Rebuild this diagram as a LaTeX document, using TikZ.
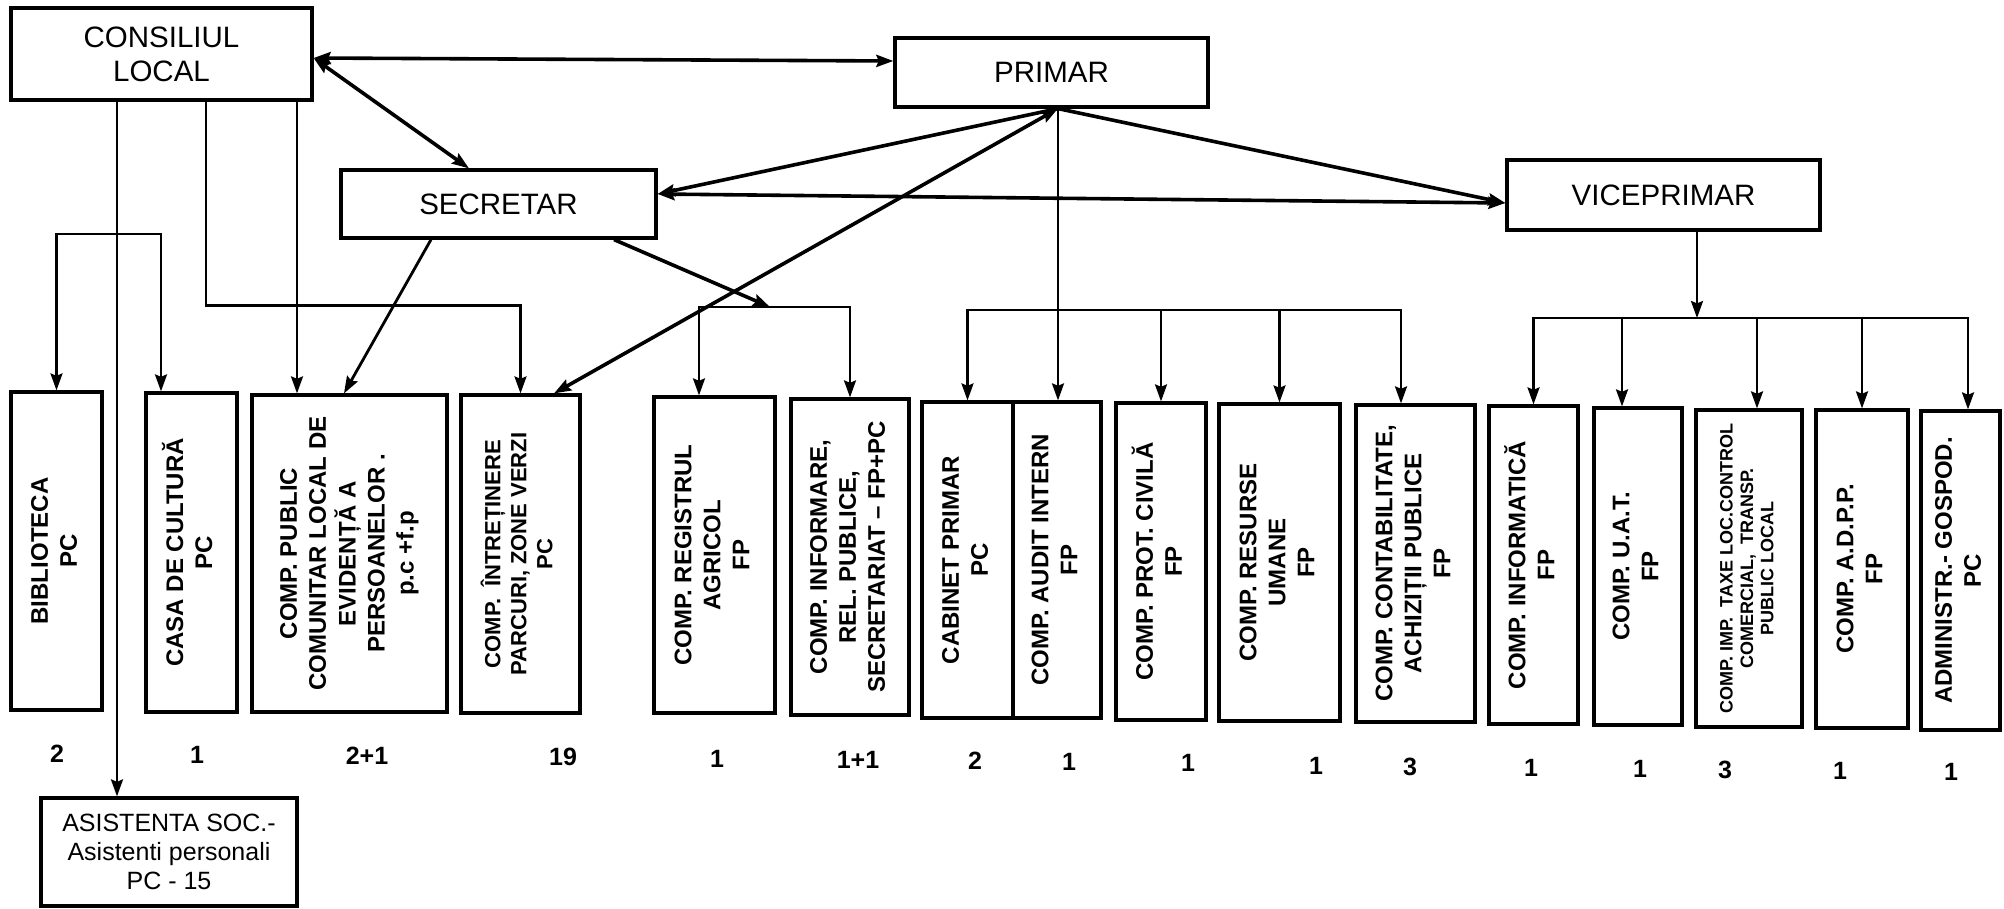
\documentclass[tikz,border=0pt]{standalone}
\usepackage{fontspec}
\setmainfont{Liberation Sans}
\usetikzlibrary{arrows.meta,calc}
\newcommand{\vbx}[7][\fontsize{12}{14.5}\selectfont]{%
  \node[vb, minimum width={(#5-#3)*0.5pt}, minimum height={(#6-#4)*0.5pt}] (#2) at ({(#3+#5)/2},{(#4+#6)/2})
  {\rotatebox{90}{#1\bfseries\begin{tabular}{@{}c@{}}#7\end{tabular}}};}
\newcommand{\tbx}[6]{%
  \node[tb, minimum width={(#5-#3)*0.5pt}, minimum height={(#6-#4)*0.5pt}] (#2) at ({(#3+#5)/2},{(#4+#6)/2}) {#1};}
\begin{document}
\begin{tikzpicture}[x=0.5pt,y=-0.5pt,
  tb/.style={draw, line width=1.6pt, inner sep=0pt, align=center, font=\fontsize{14.75}{17}\selectfont},
  vb/.style={draw, line width=1.6pt, inner sep=0pt},
  cthin/.style={line width=1.2pt},
  cmid/.style={line width=1.4pt},
  cthick/.style={line width=1.8pt},
  >={Stealth[length=8.5pt,width=6pt,inset=1.2pt]},
  num/.style={font=\bfseries\fontsize{12.5}{14}\selectfont, inner sep=0pt}
]
\fill[white] (0,0) rectangle (2004,909);
\useasboundingbox (0,0) rectangle (2004,909);

% top boxes
\tbx{CONSILIUL\\LOCAL}{CL}{11}{8}{312}{100}
\tbx{PRIMAR}{PR}{895}{38}{1208}{107}
\tbx{SECRETAR}{SEC}{341}{170}{656}{238}
\tbx{VICEPRIMAR}{VP}{1507}{160}{1820}{230}

% vertical boxes
\vbx{bib}{11}{392}{102}{710}{BIBLIOTECA\\PC}
\vbx{casa}{146}{393}{237}{712}{CASA DE CULTURĂ\\PC}
\vbx{cpub}{252}{395}{447}{712}{COMP. PUBLIC\\COMUNITAR LOCAL DE\\EVIDENȚĂ A\\PERSOANELOR .\\p.c +f.p}
\vbx[\fontsize{11}{13}\selectfont]{intr}{461}{395}{580}{713}{COMP. \ ÎNTREȚINERE\\PARCURI, ZONE VERZI\\PC}
\vbx{reg}{654}{397}{775}{713}{COMP. REGISTRUL\\AGRICOL\\FP}
\vbx{inf}{791}{399}{909}{715}{COMP. INFORMARE,\\REL. PUBLICE,\\SECRETARIAT – FP+PC}
\vbx{cab}{922}{402}{1013}{718}{CABINET PRIMAR\\PC}
\vbx{aud}{1013}{402}{1101}{718}{COMP. AUDIT INTERN\\FP}
\vbx{prot}{1116}{403}{1206}{720}{COMP. PROT. CIVILĂ\\FP}
\vbx{rum}{1219}{404}{1340}{721}{COMP. RESURSE\\UMANE\\FP}
\vbx{cont}{1356}{405}{1475}{722}{COMP. CONTABILITATE,\\ACHIZIȚII PUBLICE\\FP}
\vbx{info}{1489}{406}{1578}{724}{COMP. INFORMATICĂ\\FP}
\vbx{uat}{1594}{408}{1682}{725}{COMP. U.A.T.\\FP}
\vbx[\fontsize{9}{10.2}\selectfont]{taxe}{1696}{410}{1802}{727}{COMP. IMP. \ TAXE LOC.CONTROL\\COMERCIAL, \ TRANSP.\\PUBLIC LOCAL}
\vbx{adpp}{1816}{410}{1908}{728}{COMP. A.D.P.P.\\FP}
\vbx{adm}{1921}{411}{2000}{730}{ADMINISTR.- GOSPOD.\\PC}

% asistenta
\node[draw, line width=1.6pt, inner sep=0pt, align=center, font=\fontsize{12.5}{14.5}\selectfont,
  minimum width=128pt, minimum height=54pt] (asis) at (169,852)
  {ASISTENTA SOC.-\\Asistenti personali\\PC - 15};

% numbers
\node[num] (k1) at (57,754) {2};
\node[num] (k2) at (197,755) {1};
\node[num] (k3) at (367,756) {2+1};
\node[num] (k4) at (563,757) {19};
\node[num] (k5) at (717,759) {1};
\node[num] (k6) at (858,760) {1+1};
\node[num] (k7) at (975,761) {2};
\node[num] (k8) at (1069,762) {1};
\node[num] (k9) at (1188,763) {1};
\node[num] (k10) at (1316,766) {1};
\node[num] (k11) at (1410,767) {3};
\node[num] (k12) at (1531,768) {1};
\node[num] (k13) at (1640,769) {1};
\node[num] (k14) at (1725,770) {3};
\node[num] (k15) at (1840,771) {1};
\node[num] (k16) at (1951,772) {1};

% top connectors
\draw[cthick,<->] ([yshift=-2pt]CL.east) -- ([yshift=5.75pt]PR.west);
\draw[cthick,<->] ([yshift=-2pt]CL.east) -- ([xshift=-14.75pt]SEC.north);
\coordinate (pa) at ([xshift=3.25pt]PR.south);
\draw[cthick,->] (pa) -- ([yshift=5pt]SEC.east);
\draw[cthick,<->] ([yshift=5pt]SEC.east) -- ([yshift=-4pt]VP.west);
\draw[cthick,->] (pa) -- ([yshift=-4pt]VP.west);
\draw[cthick,<->] (pa) -- ([xshift=16.75pt]intr.north);
\draw[cthin,->] (pa) -- (pa |- aud.north);

% primar bracket
\coordinate (pb) at (1058,310);
\draw[cthin,->] (pb) -| (cab.north);
\draw[cthin,->] (pb) -| (prot.north);
\draw[cthin,->] (pb) -| (rum.north);
\draw[cthin,->] (pb) -| ([xshift=-7.25pt]cont.north);

% secretar
\coordinate (sb) at (770,307);
\draw[cthick,->] ([xshift=57.75pt]SEC.south) -- (sb);
\draw[cthin,->] (sb) -| ([xshift=-7.75pt]reg.north);
\draw[cthin,->] (sb) -| (inf.north);
\draw[cmid,->] ([xshift=-33.75pt]SEC.south) -- ([xshift=-2.75pt]cpub.north);

% consiliul local
\draw[cthin,->] ([xshift=-22.25pt]CL.south) -- ([xshift=-22.25pt]CL.south |- asis.north);
\coordinate (cb) at (117,234);
\draw[cthin,->] (cb) -| (bib.north);
\draw[cthin,->] (cb) -| ([xshift=-15.25pt]casa.north);
\draw[cthin,->] ([xshift=22.25pt]CL.south) -- ++(0,204) -| (intr.north);
\draw[cthin,->] ([xshift=67.75pt]CL.south) -- ([xshift=67.75pt]CL.south |- cpub.north);

% viceprimar
\coordinate (vb) at (1697,318);
\draw[cthin,->] ([xshift=16.75pt]VP.south) -- (vb);
\draw[cthin,->] (vb) -| (info.north);
\draw[cthin,->] (vb) -| ([xshift=-8pt]uat.north);
\draw[cthin,->] (vb) -| ([xshift=4pt]taxe.north);
\draw[cthin,->] (vb) -| (adpp.north);
\draw[cthin,->] (vb) -| ([xshift=3.75pt]adm.north);
\end{tikzpicture}
\end{document}
